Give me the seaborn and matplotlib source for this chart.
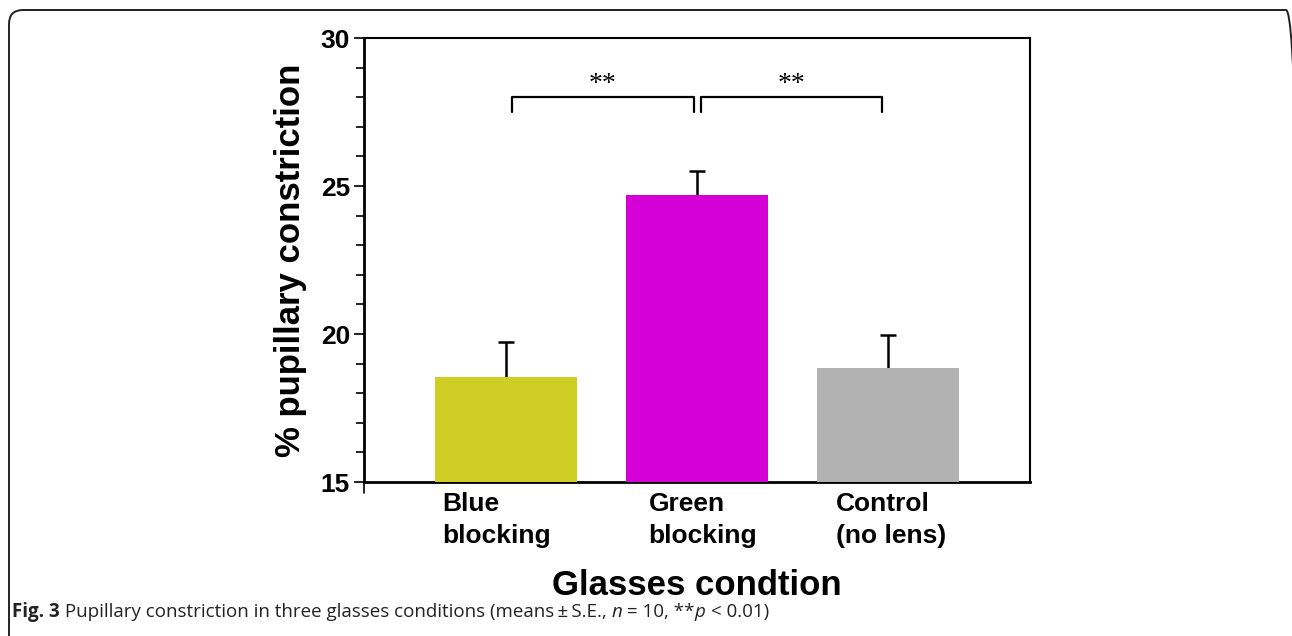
import matplotlib
matplotlib.use("Agg")
import matplotlib.pyplot as plt
import seaborn as sns
import pandas as pd
from matplotlib.patches import FancyBboxPatch
from matplotlib.ticker import MultipleLocator
from matplotlib.transforms import IdentityTransform, ScaledTranslation

categories = ["Blue\nblocking", "Green\nblocking", "Control\n(no lens)"]
means = [18.55, 24.70, 18.85]
se = [1.18, 0.82, 1.12]
colors = ["#CFCE25", "#D500D5", "#B2B2B2"]
yticks = [15, 20, 25, 30]
sig_labels = ["**", "**"]

sns.set_theme(style="white")
plt.rcParams["font.family"] = ["Liberation Sans", "DejaVu Sans"]
plt.rcParams["text.color"] = "black"
plt.rcParams["axes.labelcolor"] = "black"
plt.rcParams["xtick.color"] = "black"
plt.rcParams["ytick.color"] = "black"

fig = plt.figure(figsize=(12.92, 6.36), dpi=100)
ax = fig.add_axes([364/1292, 1-482/636, (1030-364)/1292, (482-38)/636])

df = pd.DataFrame({"cond": categories, "val": means})
sns.barplot(data=df, x="cond", y="val", hue="cond", palette=colors,
            width=0.743, errorbar=None, legend=False, ax=ax, saturation=1,
            linewidth=0, zorder=3)
xs = list(range(len(categories)))
ax.errorbar(xs, means, yerr=se, fmt="none", ecolor="black",
            elinewidth=1.8, capsize=5.5, capthick=1.8, zorder=2)

ax.set_ylim(15, 30)
ax.set_xlim(-0.743, 2.743)
ax.set_yticks(yticks)
ax.yaxis.set_minor_locator(MultipleLocator(1))
ax.tick_params(axis="y", which="both", left=True, direction="out", width=1.2,
               color="black")
ax.tick_params(axis="y", which="major", length=7, labelsize=19, pad=3,
               labelcolor="black")
ax.tick_params(axis="y", which="minor", length=6)
ax.tick_params(axis="x", length=0, labelsize=19, pad=7, labelcolor="black")
for lab in ax.get_yticklabels():
    lab.set_fontweight("bold")
label_shift_px = [-9, 6, 3]
for lab, dx in zip(ax.get_xticklabels(), label_shift_px):
    lab.set_fontweight("bold")
    lab.set_multialignment("left")
    lab.set_linespacing(1.45)
    lab.set_transform(lab.get_transform() +
                      ScaledTranslation(dx / 100, 0, fig.dpi_scale_trans))
for s in ax.spines.values():
    s.set_color("black")
    s.set_linewidth(1.5)
ax.spines["left"].set_linewidth(2)
ax.spines["bottom"].set_linewidth(2)

# small downward extension of the left axis below the baseline
ax.plot([ax.get_xlim()[0]] * 2, [15, 14.62], color="black", lw=1.2,
        clip_on=False, zorder=5)

ax.set_ylabel("% pupillary constriction", fontsize=25, fontweight="bold",
              labelpad=10, color="black")
ax.set_xlabel("Glasses condtion", fontsize=25, fontweight="bold",
              labelpad=15, color="black")

# significance brackets
brackets = [(0.03, 0.984), (1.02, 1.97)]
for (x0, x1), lab in zip(brackets, sig_labels):
    ax.plot([x0, x0, x1, x1], [27.5, 28.0, 28.0, 27.5], color="black",
            lw=1.6, clip_on=False, zorder=4)
    ax.text((x0 + x1) / 2, 28.42, lab, ha="center", va="center",
            fontsize=20, color="black", family=["Liberation Serif", "DejaVu Serif"])

# frame
frame = FancyBboxPatch((9, -30), 1300 - 9, 626 + 30,
                       boxstyle="round,pad=0,rounding_size=14",
                       transform=IdentityTransform(), fill=False,
                       edgecolor="#222222", lw=1.4)
fig.patches.append(frame)

# caption with mixed styles
pieces = [("Fig. 3", "bold", "normal"),
          (" Pupillary constriction in three glasses conditions (means\u2009\u00b1\u2009S.E., ", "normal", "normal"),
          ("n", "normal", "italic"),
          (" = 10, **", "normal", "normal"),
          ("p", "normal", "italic"),
          (" < 0.01)", "normal", "normal")]
renderer = fig.canvas.get_renderer()
x = 12.0
for txt, w, st in pieces:
    t = fig.text(x / 1292, 1 - 617 / 636, txt, fontsize=13.5,
                 fontweight=w, style=st, color="#222222",
                 family=["Open Sans", "DejaVu Sans"], va="baseline", ha="left")
    bb = t.get_window_extent(renderer=renderer)
    x += bb.width

fig.savefig("out.png", dpi=100)
